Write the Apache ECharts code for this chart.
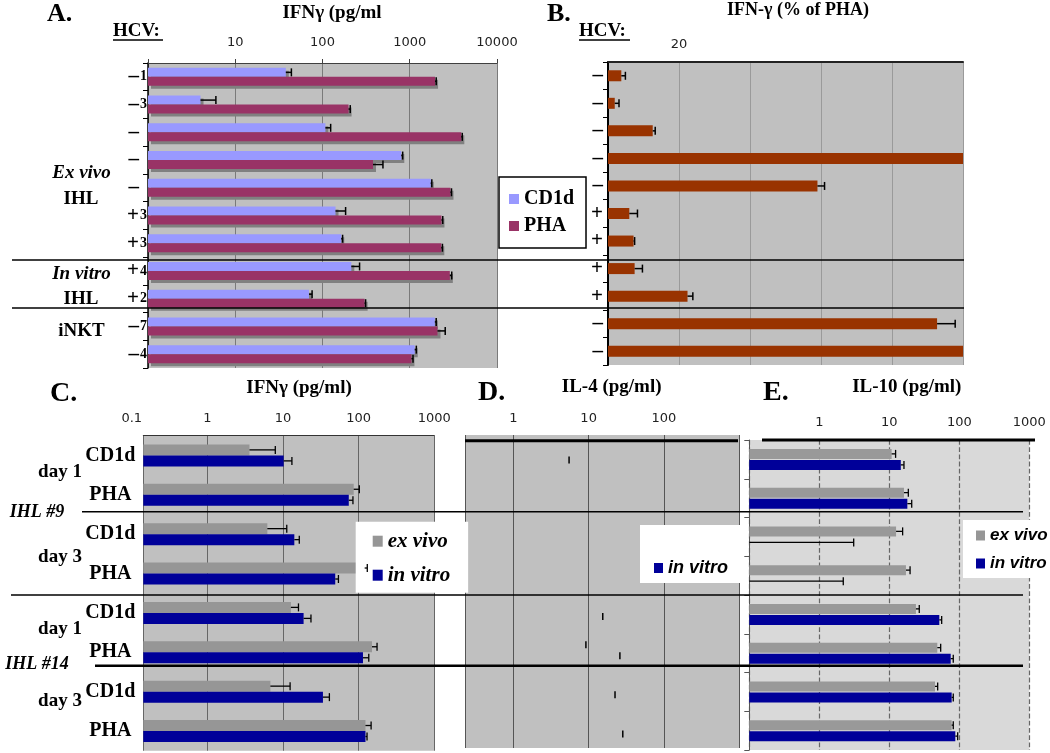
<!DOCTYPE html>
<html><head><meta charset="utf-8">
<script src="https://cdn.jsdelivr.net/npm/echarts@6/dist/echarts.min.js"></script>
<style>html,body{margin:0;padding:0;background:#fff}#c{width:1050px;height:753px}</style>
</head><body><div id="c"></div>
<script>
// ---------------- data ----------------
// Panel A: IFNγ (pg/ml), log axis
const A_rows   = ['–1','–3','–','–','–','+3','+3','+4','+2','–7','–4'];
const A_cd1d   = [38, 4.0, 108, 800, 1740, 141, 164, 214, 70, 1940, 1140];
const A_cd1dHi = [44, 6.0, 124, 830, 1790, 184, 170, 266, 76, 2010, 1190];
const A_pha    = [1950, 199, 3900, 379, 2930, 2310, 2300, 2880, 304, 2080, 1046];
const A_phaHi  = [2010, 208, 4000, 493, 3010, 2390, 2370, 3030, 312, 2550, 1090];
const A_ticks  = ['10','100','1000','10000'];

// Panel B: IFN-γ (% of PHA)
const B_rows  = ['–','–','–','–','–','+','+','+','+','–','–'];
const B_pct   = [3.75, 1.9, 12.6, 100, 59.0, 6.0, 7.2, 7.5, 22.4, 92.7, 100];
const B_pctHi = [4.9, 3.1, 13.3, null, 61.0, 8.3, 7.5, 9.7, 23.9, 97.8, null];
const B_ticks = ['20'];

// Panels C, D, E rows
const CDE_rows = ['CD1d','PHA','CD1d','PHA','CD1d','PHA','CD1d','PHA'];

// Panel C: IFNγ (pg/ml)
const C_exVivo    = [3.6, 86, 6.2, 120, 12.7, 150, 6.8, 123];
const C_exVivoHi  = [7.9, 102, 11.2, 130, 16, 175, 12.4, 146];
const C_inVitro   = [10.2, 74, 14.1, 49, 18.7, 114, 33.7, 123];
const C_inVitroHi = [13.1, 84, 16.4, 54, 23.4, 136, 41, 129];
const C_ticks = ['0.1','1','10','100','1000'];

// Panel D: IL-4 (pg/ml) – only error marks visible
const D_exVivoHi  = [null, null, null, null, null, 9.2, null, null];
const D_inVitroHi = [5.5, null, null, null, 15.4, 26, 22.4, 28.4];
const D_ticks = ['1','10','100'];

// Panel E: IL-10 (pg/ml)
const E_exVivo    = [10.8, 16.2, 12.5, 17.3, 24, 48.5, 45, 77.8];
const E_exVivoHi  = [12.3, 18.7, 15.5, 19.8, 26.8, 54.2, 49.1, 82];
const E_inVitro   = [14.6, 18.1, null, null, 51.8, 75.4, 77.8, 87.7];
const E_inVitroHi = [16.2, 20.9, 3.1, 2.2, 56, 82, 82, 94.8];
const E_ticks = ['1','10','100','1000'];

// axis ranges
const C_min = 0.142, D_min = 0.2285;

// ---------------- helpers ----------------
const SERIF = '"Liberation Serif", "Times New Roman", serif';
const SANS = '"DejaVu Sans", Verdana, sans-serif';
const ARIAL = '"Liberation Sans", Arial, sans-serif';
const fmt = list => v => { const s = String(Number(Number(v).toPrecision(6))); return list.includes(s) ? s : ''; };

function errBars(xi, yi, vals, his, off, opt) {
  opt = opt || {};
  const data = [];
  his.forEach((h, i) => {
    if (h == null) return;
    const v = vals ? (vals[i] == null ? opt.floor : vals[i]) : h;
    data.push([i, v, h]);
  });
  return {
    type: 'custom', xAxisIndex: xi, yAxisIndex: yi, z: 6, silent: true,
    encode: { x: 2, y: 0 }, data,
    renderItem(params, api) {
      const i = api.value(0), v = api.value(1), h = api.value(2);
      const p1 = api.coord([v, i]), p2 = api.coord([h, i]);
      const y = p2[1] + off, c = opt.cap || 4, lw = opt.lw || 1.5;
      const ch = [];
      if (!opt.capOnly) ch.push({ type: 'line', shape: { x1: p1[0], y1: y, x2: p2[0], y2: y }, style: { stroke: '#000', lineWidth: lw } });
      ch.push({ type: 'line', shape: { x1: p2[0], y1: y - c, x2: p2[0], y2: y + c }, style: { stroke: '#000', lineWidth: lw } });
      return { type: 'group', children: ch };
    }
  };
}
const T = (text, x, y, font, align) => ({ type: 'text', z: 100, x, y,
  style: { text, font, fill: '#000', align: align || 'center', verticalAlign: 'middle', textAlign: align || 'center', textVerticalAlign: 'middle' } });
const L = (x1, y1, x2, y2, w) => ({ type: 'line', z: 100, shape: { x1, y1, x2, y2 }, style: { stroke: '#000', lineWidth: w || 1.5 } });

const tickLbl = { fontFamily: SANS, fontSize: 13, color: '#222' };
const nameStyle = (pad, size) => ({ fontFamily: SERIF, fontWeight: 'bold', fontSize: size || 19, color: '#000', padding: [0, 0, 0, pad] });

const chart = echarts.init(document.getElementById('c'), null, { renderer: 'canvas' });
chart.setOption({
  animation: false,
  backgroundColor: '#fff',
  grid: [
    { left: 148, top: 63, width: 349, height: 305, show: true, backgroundColor: '#C0C0C0', borderWidth: 0 },   // A
    { left: 608, top: 60, width: 355, height: 305, show: true, backgroundColor: '#C0C0C0', borderWidth: 0 },   // B
    { left: 143.3, top: 435.7, width: 291, height: 315, show: true, backgroundColor: '#C0C0C0', borderWidth: 0 }, // C
    { left: 131.8, top: 435.7, width: 302.5, height: 315 },                                                    // C tick labels
    { left: 465, top: 435, width: 274.3, height: 313, show: true, backgroundColor: '#C0C0C0', borderWidth: 0 }, // D
    { left: 749.3, top: 440, width: 280, height: 310, show: true, backgroundColor: '#D9D9D9', borderWidth: 0 }  // E
  ],
  xAxis: [
    { gridIndex: 0, type: 'log', min: 1, max: 10000, position: 'top',
      name: 'IFNγ (pg/ml', nameLocation: 'middle', nameGap: 40, nameTextStyle: nameStyle(19),
      axisLine: { show: true, lineStyle: { color: '#404040', width: 1 } },
      axisTick: { show: true, length: 4, lineStyle: { color: '#404040' } },
      axisLabel: { ...tickLbl, margin: 14, formatter: fmt(A_ticks) },
      splitLine: { show: true, lineStyle: { color: '#7a7a7a', width: 1 } } },
    { gridIndex: 1, type: 'value', min: 0, max: 100, interval: 20, position: 'top',
      name: 'IFN-γ (% of PHA)', nameLocation: 'middle', nameGap: 43, nameTextStyle: nameStyle(25, 18),
      axisLine: { show: true, lineStyle: { color: '#222', width: 2 } },
      axisTick: { show: false },
      axisLabel: { ...tickLbl, margin: 11, formatter: v => B_ticks.includes(String(v)) ? String(v) : '' },
      splitLine: { show: true, lineStyle: { color: '#9a9a9a', width: 1 } } },
    { gridIndex: 2, type: 'log', min: C_min, max: 1000, startValue: C_min, position: 'top',
      axisLine: { show: true, lineStyle: { color: '#333', width: 1 } },
      axisTick: { show: false }, axisLabel: { show: false },
      splitLine: { show: true, lineStyle: { color: '#666', width: 1 } } },
    { gridIndex: 3, type: 'log', min: 0.1, max: 1000, position: 'top',
      name: 'IFNγ (pg/ml)', nameLocation: 'middle', nameGap: 38, nameTextStyle: nameStyle(32),
      axisLine: { show: false }, axisTick: { show: false }, splitLine: { show: false },
      axisLabel: { ...tickLbl, margin: 11, formatter: fmt(C_ticks) } },
    { gridIndex: 4, type: 'log', min: D_min, max: 1000, startValue: D_min, position: 'top',
      name: 'IL-4 (pg/ml)', nameLocation: 'middle', nameGap: 38, nameTextStyle: nameStyle(19),
      axisLine: { show: false }, axisTick: { show: false },
      axisLabel: { ...tickLbl, margin: 9.5, formatter: fmt(D_ticks) },
      splitLine: { show: true, lineStyle: { color: '#555', width: 1 } } },
    { gridIndex: 5, type: 'log', min: 0.1, max: 1000, startValue: 0.1, position: 'top',
      name: 'IL-10 (pg/ml)', nameLocation: 'middle', nameGap: 43, nameTextStyle: nameStyle(35),
      axisLine: { show: false }, axisTick: { show: false },
      axisLabel: { ...tickLbl, margin: 10.5, formatter: fmt(E_ticks) },
      splitLine: { show: true, lineStyle: { color: '#666', width: 1.2, type: 'dashed' } } }
  ],
  yAxis: [
    { gridIndex: 0, type: 'category', data: A_rows, inverse: true,
      axisLine: { show: true, lineStyle: { color: '#000', width: 1.5 } },
      axisTick: { show: true, length: 5, lineStyle: { color: '#000' } },
      axisLabel: { margin: 0, formatter: v => '{s|' + v[0] + '}{d|' + (v.slice(1) || ' ') + '}',
        rich: { s: { fontFamily: SERIF, fontWeight: 'bold', fontSize: 21, color: '#000' },
                d: { fontFamily: SERIF, fontWeight: 'bold', fontSize: 14, color: '#000', width: 9, align: 'left' } } } },
    { gridIndex: 1, type: 'category', data: B_rows, inverse: true,
      axisLine: { show: true, lineStyle: { color: '#000', width: 2 } },
      axisTick: { show: true, length: 5, lineStyle: { color: '#000' } },
      axisLabel: { margin: 5, fontFamily: SERIF, fontWeight: 'bold', fontSize: 21, color: '#000' } },
    { gridIndex: 2, type: 'category', data: CDE_rows, inverse: true,
      axisLine: { show: false }, axisTick: { show: false },
      axisLabel: { margin: 33, align: 'center', fontFamily: SERIF, fontWeight: 'bold', fontSize: 20, color: '#000' } },
    { gridIndex: 3, type: 'category', data: CDE_rows, inverse: true, show: false },
    { gridIndex: 4, type: 'category', data: CDE_rows, inverse: true, show: false },
    { gridIndex: 5, type: 'category', data: CDE_rows, inverse: true,
      axisLine: { show: true, lineStyle: { color: '#555', width: 1 } },
      axisTick: { show: true, length: 5, lineStyle: { color: '#555' } },
      axisLabel: { show: false } }
  ],
  legend: [
    { data: ['CD1d', 'PHA'], orient: 'vertical', left: 499, top: 177, selectedMode: false,
      backgroundColor: '#fff', borderColor: '#000', borderWidth: 1.5, padding: [12, 12, 12, 10],
      itemWidth: 10, itemHeight: 10, itemGap: 7, icon: 'rect',
      textStyle: { fontFamily: SERIF, fontWeight: 'bold', fontSize: 20, color: '#000' } },
    { data: ['ex vivo', 'in vitro'], orient: 'vertical', left: 355.7, top: 521.7, selectedMode: false,
      backgroundColor: '#fff', borderWidth: 0, padding: [9, 18, 7, 17],
      itemWidth: 10, itemHeight: 11, itemGap: 13, icon: 'rect',
      textStyle: { fontFamily: SERIF, fontStyle: 'italic', fontWeight: 'bold', fontSize: 21, color: '#000' } },
    { data: ['in vitro'], orient: 'vertical', left: 640, top: 525, selectedMode: false,
      backgroundColor: '#fff', borderWidth: 0, padding: [34, 15, 6, 14],
      itemWidth: 9, itemHeight: 10, icon: 'rect',
      textStyle: { fontFamily: ARIAL, fontStyle: 'italic', fontWeight: 'bold', fontSize: 18, color: '#000' } },
    { data: ['ex vivo', 'in vitro'], orient: 'vertical', left: 963, top: 520, selectedMode: false,
      backgroundColor: '#fff', borderWidth: 0, padding: [7, 6, 6, 13],
      itemWidth: 9, itemHeight: 10, itemGap: 11, icon: 'rect',
      textStyle: { fontFamily: ARIAL, fontStyle: 'italic', fontWeight: 'bold', fontSize: 17, color: '#000' } }
  ],
  series: [
    // A
    { type: 'bar', name: 'CD1d', xAxisIndex: 0, yAxisIndex: 0, data: A_cd1d, barWidth: 9, barGap: '0%',
      itemStyle: { color: '#9999FF', shadowColor: '#808080', shadowOffsetX: 3, shadowOffsetY: 3, shadowBlur: 0 } },
    { type: 'bar', name: 'PHA', xAxisIndex: 0, yAxisIndex: 0, data: A_pha, barWidth: 9, barGap: '0%',
      itemStyle: { color: '#993366', shadowColor: '#808080', shadowOffsetX: 3, shadowOffsetY: 3, shadowBlur: 0 } },
    errBars(0, 0, A_cd1d, A_cd1dHi, -4.5, { cap: 4 }),
    errBars(0, 0, A_pha, A_phaHi, 4.5, { cap: 4 }),
    // B
    { type: 'bar', name: 'B', xAxisIndex: 1, yAxisIndex: 1, data: B_pct, barWidth: 11,
      itemStyle: { color: '#993300' } },
    errBars(1, 1, B_pct, B_pctHi, 0, { cap: 4 }),
    // C
    { type: 'bar', name: 'ex vivo', xAxisIndex: 2, yAxisIndex: 2, data: C_exVivo, barWidth: 11, barGap: '0%',
      itemStyle: { color: '#969696' } },
    { type: 'bar', name: 'in vitro', xAxisIndex: 2, yAxisIndex: 2, data: C_inVitro, barWidth: 11, barGap: '0%',
      itemStyle: { color: '#000099' } },
    errBars(2, 2, C_exVivo, C_exVivoHi, -5.5, { cap: 4, lw: 1.3 }),
    errBars(2, 2, C_inVitro, C_inVitroHi, 5.5, { cap: 4, lw: 1.3 }),
    // D
    errBars(4, 4, null, D_exVivoHi, -5.5, { capOnly: true, cap: 3.5, lw: 1.5 }),
    errBars(4, 4, null, D_inVitroHi, 5.5, { capOnly: true, cap: 3.5, lw: 1.5 }),
    // E
    { type: 'bar', name: 'ex vivo', xAxisIndex: 5, yAxisIndex: 5, data: E_exVivo, barWidth: 10, barGap: '10%',
      itemStyle: { color: '#999999' } },
    { type: 'bar', name: 'in vitro', xAxisIndex: 5, yAxisIndex: 5, data: E_inVitro, barWidth: 10, barGap: '10%',
      itemStyle: { color: '#000099' } },
    errBars(5, 5, E_exVivo, E_exVivoHi, -5.5, { cap: 4, lw: 1.3 }),
    errBars(5, 5, E_inVitro, E_inVitroHi, 5.5, { cap: 4, lw: 1.3, floor: 0.1 })
  ],
  graphic: { elements: [
    T('A.', 47, 14, 'bold 26px ' + SERIF, 'left'),
    T('HCV:', 113, 31, 'bold 19px ' + SERIF, 'left'), L(113, 40, 163, 40, 1.5),
    T('B.', 547, 14, 'bold 26px ' + SERIF, 'left'),
    T('HCV:', 579, 31, 'bold 19px ' + SERIF, 'left'), L(579, 40, 630, 40, 1.5),
    T('Ex vivo', 81.5, 173, 'italic bold 19px ' + SERIF),
    T('IHL', 81, 199, 'bold 19px ' + SERIF),
    T('In vitro', 81.5, 274, 'italic bold 19px ' + SERIF),
    T('IHL', 81, 299, 'bold 19px ' + SERIF),
    T('iNKT', 81.5, 331, 'bold 19px ' + SERIF),
    L(12, 260, 964, 260, 1.5), L(12, 308, 964, 308, 1.5),
    T('C.', 50, 394, 'bold 28px ' + SERIF, 'left'),
    T('D.', 478, 393, 'bold 28px ' + SERIF, 'left'),
    T('E.', 763, 393, 'bold 28px ' + SERIF, 'left'),
    T('day 1', 60, 471.7, 'bold 19px ' + SERIF),
    T('day 3', 60, 557.3, 'bold 19px ' + SERIF),
    T('day 1', 60, 629.3, 'bold 19px ' + SERIF),
    T('day 3', 60, 700.7, 'bold 19px ' + SERIF),
    T('IHL #9', 37, 512.7, 'italic bold 18px ' + SERIF),
    T('IHL #14', 37, 664, 'italic bold 18px ' + SERIF),
    L(82, 511.7, 1023, 511.7, 1.5), L(11, 595, 1023, 595, 1.5), L(95, 665.7, 1023, 665.7, 2.5),
    L(465, 440.7, 738, 440.7, 3), L(762, 440, 1035, 440, 3)
  ] }
});
</script></body></html>
